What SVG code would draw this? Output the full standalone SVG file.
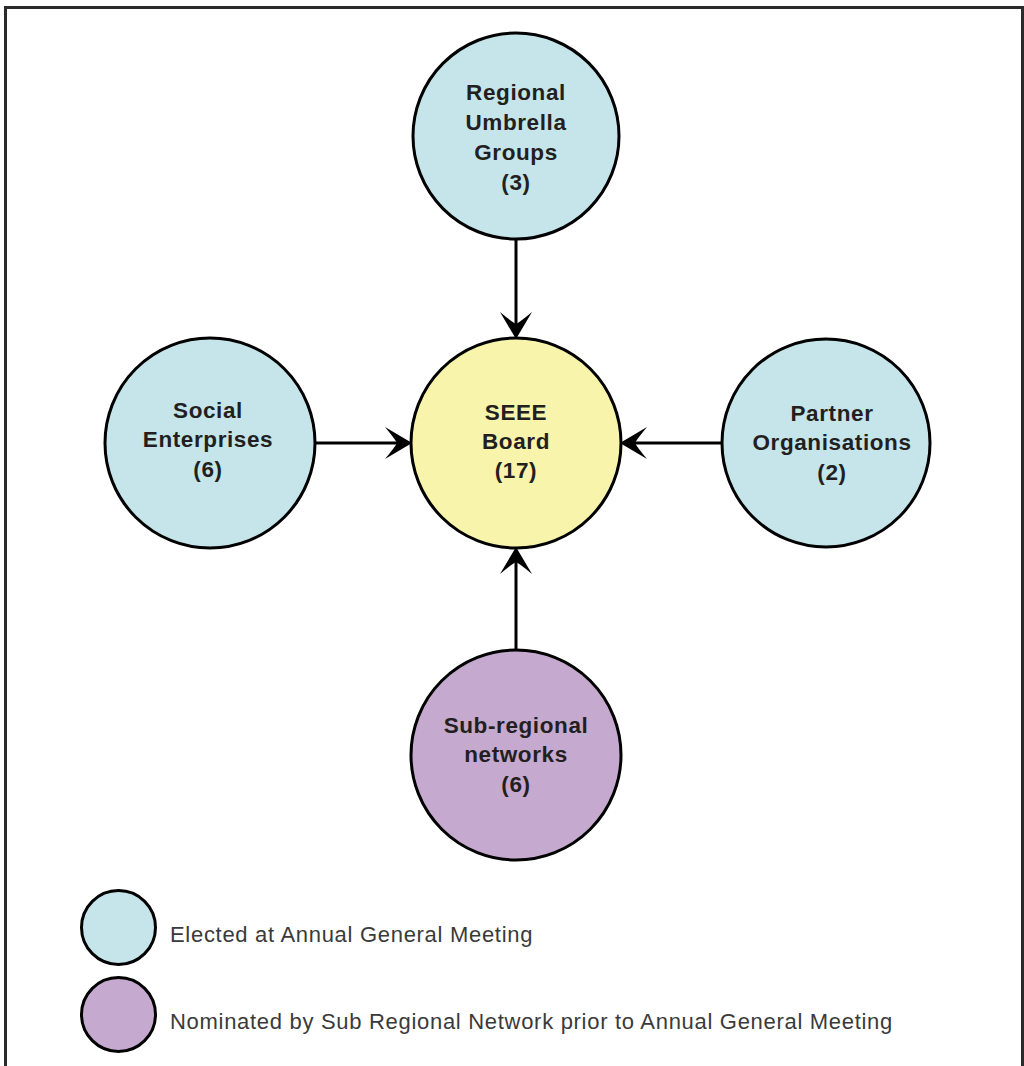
<svg xmlns="http://www.w3.org/2000/svg" width="1024" height="1066" viewBox="0 0 1024 1066">
<style>
.frame{fill:none;stroke:#2b2b2b;stroke-width:3}
.node{stroke:#000;stroke-width:3}
.blue{fill:#c5e5ea}
.yellow{fill:#f8f4ab}
.purple{fill:#c6a9cf}
.lbl{font-family:"Liberation Sans",Arial,sans-serif;font-weight:bold;font-size:22.5px;letter-spacing:0.6px;fill:#231f20;text-anchor:middle}
.leg{font-family:"Liberation Sans",Arial,sans-serif;font-size:22px;letter-spacing:0.7px;fill:#3a3a3a}
.conn{stroke:#000;stroke-width:3;fill:none}
</style>
<defs>
<marker id="arr" markerUnits="userSpaceOnUse" markerWidth="40" markerHeight="40" viewBox="-2 -20 32 40" refX="20" refY="0" orient="auto">
<path d="M27,0 L0,-16 Q10,-4 12,0 Q10,4 0,16 Z" fill="#000"/>
</marker>
</defs>
<rect class="frame" x="5.5" y="7.5" width="1017" height="1070"/>
<g id="connectors">
<line class="conn" x1="516" y1="240" x2="516" y2="332" marker-end="url(#arr)"/>
<line class="conn" x1="315" y1="443" x2="405" y2="443" marker-end="url(#arr)"/>
<line class="conn" x1="722" y1="443" x2="627" y2="443" marker-end="url(#arr)"/>
<line class="conn" x1="516" y1="650" x2="516" y2="554" marker-end="url(#arr)"/>
</g>
<g id="regional">
<circle class="node blue" cx="516" cy="136" r="103"/>
<text class="lbl" x="516" y="100">Regional</text>
<text class="lbl" x="516" y="130">Umbrella</text>
<text class="lbl" x="516" y="160">Groups</text>
<text class="lbl" x="516" y="190">(3)</text>
</g>
<g id="board">
<circle class="node yellow" cx="516" cy="443" r="105"/>
<text class="lbl" x="516" y="420">SEEE</text>
<text class="lbl" x="516" y="449">Board</text>
<text class="lbl" x="516" y="478">(17)</text>
</g>
<g id="social">
<circle class="node blue" cx="210" cy="443" r="105"/>
<text class="lbl" x="208" y="418">Social</text>
<text class="lbl" x="208" y="447">Enterprises</text>
<text class="lbl" x="208" y="477">(6)</text>
</g>
<g id="partner">
<circle class="node blue" cx="826" cy="443" r="104"/>
<text class="lbl" x="832" y="421">Partner</text>
<text class="lbl" x="832" y="450">Organisations</text>
<text class="lbl" x="832" y="480">(2)</text>
</g>
<g id="subregional">
<circle class="node purple" cx="516" cy="755" r="105"/>
<text class="lbl" x="516" y="733">Sub-regional</text>
<text class="lbl" x="516" y="762">networks</text>
<text class="lbl" x="516" y="792">(6)</text>
</g>
<g id="legend-elected">
<circle class="node blue" cx="118.5" cy="927.5" r="37"/>
<text class="leg" x="170" y="942">Elected at Annual General Meeting</text>
</g>
<g id="legend-nominated">
<circle class="node purple" cx="118.5" cy="1014.5" r="37"/>
<text class="leg" x="170" y="1029">Nominated by Sub Regional Network prior to Annual General Meeting</text>
</g>
</svg>
